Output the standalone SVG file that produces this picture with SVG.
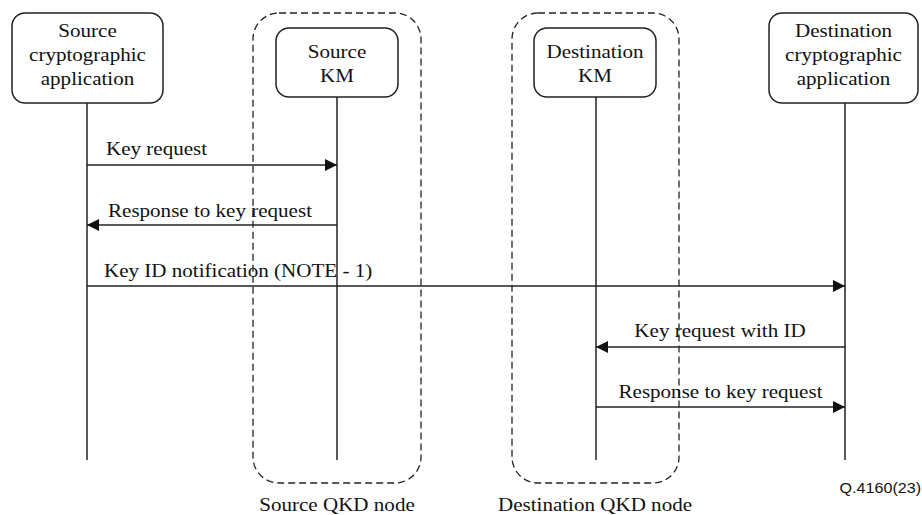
<svg xmlns="http://www.w3.org/2000/svg" width="922" height="515" viewBox="0 0 922 515">
<style>
.box{fill:#fff;stroke:#222;stroke-width:1.5}
.grp{fill:none;stroke:#222;stroke-width:1.3;stroke-dasharray:7 4}
.life{stroke:#222;stroke-width:1.5;fill:none}
.msg{stroke:#222;stroke-width:1.5;fill:none;marker-end:url(#ah)}
text{font-family:"Liberation Serif","Times New Roman",serif;font-size:18px;fill:#111}
.c{text-anchor:middle}
.s{font-family:"Liberation Sans",Arial,sans-serif;font-size:14px;text-anchor:end}
</style>
<defs>
<marker id="ah" markerUnits="userSpaceOnUse" markerWidth="12" markerHeight="12" refX="12" refY="6" orient="auto">
<path d="M0,0 L12,6 L0,12 Z" fill="#111"/>
</marker>
</defs>
<g id="sourceQKD">
<rect class="grp" x="253" y="13" width="168" height="470" rx="26" ry="26"/>
<text class="c" transform="translate(337 511) scale(1.17 1)">Source QKD node</text>
</g>
<g id="destQKD">
<rect class="grp" x="512" y="13" width="167" height="470" rx="26" ry="26"/>
<text class="c" transform="translate(595 511) scale(1.17 1)">Destination QKD node</text>
</g>
<g id="lifelines">
<line class="life" x1="87" y1="103" x2="87" y2="460"/>
<line class="life" x1="337" y1="97" x2="337" y2="460"/>
<line class="life" x1="596" y1="97" x2="596" y2="460"/>
<line class="life" x1="845" y1="103" x2="845" y2="460"/>
</g>
<g id="srcApp">
<rect class="box" x="12" y="13" width="151" height="90" rx="13" ry="13"/>
<text class="c" transform="translate(87.5 37) scale(1.17 1)">Source</text>
<text class="c" transform="translate(87.5 61) scale(1.17 1)">cryptographic</text>
<text class="c" transform="translate(87.5 85) scale(1.17 1)">application</text>
</g>
<g id="srcKM">
<rect class="box" x="276" y="28" width="122" height="69" rx="13" ry="13"/>
<text class="c" transform="translate(337 58) scale(1.17 1)">Source</text>
<text class="c" transform="translate(337 82) scale(1.17 1)">KM</text>
</g>
<g id="dstKM">
<rect class="box" x="534" y="28" width="122" height="69" rx="13" ry="13"/>
<text class="c" transform="translate(595 58) scale(1.17 1)">Destination</text>
<text class="c" transform="translate(595 82) scale(1.17 1)">KM</text>
</g>
<g id="dstApp">
<rect class="box" x="769" y="13" width="149" height="90" rx="13" ry="13"/>
<text class="c" transform="translate(843.5 37) scale(1.17 1)">Destination</text>
<text class="c" transform="translate(843.5 61) scale(1.17 1)">cryptographic</text>
<text class="c" transform="translate(843.5 85) scale(1.17 1)">application</text>
</g>
<g id="connectors">
<line class="msg" x1="87" y1="165" x2="337" y2="165"/>
<text transform="translate(106 155) scale(1.17 1)">Key request</text>
<line class="msg" x1="337" y1="225" x2="87" y2="225"/>
<text transform="translate(108 217) scale(1.17 1)">Response to key request</text>
<line class="msg" x1="87" y1="286" x2="845" y2="286"/>
<text transform="translate(104 277) scale(1.17 1)">Key ID notification (NOTE - 1)</text>
<line class="msg" x1="845" y1="347" x2="596" y2="347"/>
<text class="c" transform="translate(720 337) scale(1.17 1)">Key request with ID</text>
<line class="msg" x1="596" y1="407" x2="845" y2="407"/>
<text class="c" transform="translate(720.5 398) scale(1.17 1)">Response to key request</text>
</g>
<text class="s" transform="translate(921 493) scale(1.15 1)">Q.4160(23)</text>
</svg>
